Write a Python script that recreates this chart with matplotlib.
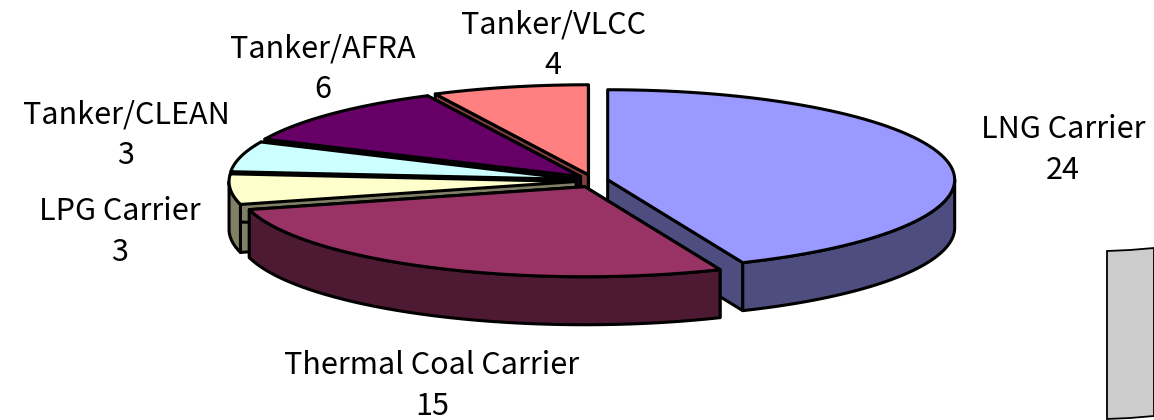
import numpy as np
import matplotlib
matplotlib.use('Agg')
import matplotlib.pyplot as plt

names = ['LNG Carrier', 'Thermal Coal Carrier', 'LPG Carrier',
         'Tanker/CLEAN', 'Tanker/AFRA', 'Tanker/VLCC']
values = [24, 15, 3, 3, 6, 4]
top_colors = ['#9999FF', '#993366', '#FFFFCC', '#CCFFFF', '#660066', '#FF8080']
side_colors = ['#4D4D80', '#4D1933', '#808066', '#668080', '#330033', '#804040']
label_pos = [(1063, 150), (432, 386), (120, 232), (126, 135), (323, 69), (553, 45)]

plt.rcParams['font.family'] = ['Noto Sans CJK JP', 'DejaVu Sans']

cx, cy = 592, 181
rx, ry = 347, 90
ex, ey = 16, 6.4
depth = 48
lw = 2.2

fig = plt.figure(figsize=(11.54, 4.2), dpi=100)
ax = fig.add_axes([0, 0, 1, 1])
ax.set_xlim(0, 1154)
ax.set_ylim(420, 0)
ax.axis('off')


def arc(x0, y0, a0, a1):
    t = np.radians(np.linspace(a0, a1, 80))
    return np.column_stack([x0 + rx * np.sin(t), y0 - ry * np.cos(t)])


def shape(pts, color, z):
    ax.fill(pts[:, 0], pts[:, 1], facecolor=color, edgecolor='black',
            linewidth=lw, joinstyle='round', zorder=z)


# back slices first, thermal coal sits on top of everything
order = [5, 4, 3, 2, 0, 1]
angles = np.cumsum([0] + values) / sum(values) * 360
down = np.array([0, depth])

for z, i in enumerate(order):
    a0, a1 = angles[i], angles[i + 1]
    mid = np.radians((a0 + a1) / 2)
    x0 = cx + ex * np.sin(mid)
    y0 = cy - ey * np.cos(mid)
    apex = np.array([[x0, y0]])
    edge = arc(x0, y0, a0, a1)

    # cut faces
    for p in (edge[0], edge[-1]):
        face = np.array([apex[0], p, p + down, apex[0] + down])
        shape(face, side_colors[i], z * 10 + 1)

    # outer wall, only the front half of the ellipse shows
    s0, s1 = max(a0, 90), min(a1, 270)
    if s0 < s1:
        wall = arc(x0, y0, s0, s1)
        shape(np.vstack([wall, (wall + down)[::-1]]), side_colors[i], z * 10 + 2)

    shape(np.vstack([apex, edge]), top_colors[i], z * 10 + 3)

for name, val, pos in zip(names, values, label_pos):
    ax.text(pos[0], pos[1], name + '\n' + str(val), ha='center', va='center',
            fontsize=22, color='black', linespacing=1.38, zorder=100)

# bit of the next chart's box, cut off by the edge
box_x = [1107, 1130, 1154, 1154, 1130, 1107]
box_y = [251, 250, 248, 416, 418, 419]
ax.fill(box_x, box_y, facecolor='#CCCCCC', edgecolor='black', linewidth=1.3, zorder=50)

fig.savefig('out.png', dpi=100)
